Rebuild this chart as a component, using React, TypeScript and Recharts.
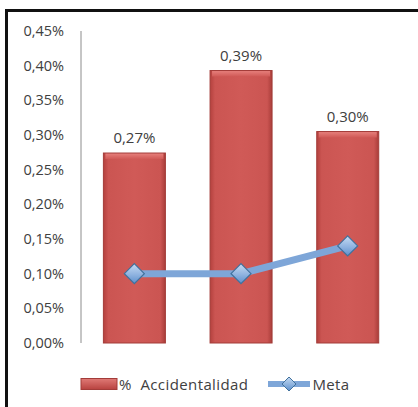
import React from 'react';
import { ComposedChart, Bar, Line, XAxis, YAxis, LabelList } from 'recharts';

const categories = ['A', 'B', 'C'];
const accidentalidad = [0.274, 0.393, 0.305];
const meta = [0.1, 0.1, 0.14];
const yTicks = [0, 0.05, 0.1, 0.15, 0.2, 0.25, 0.3, 0.35, 0.4, 0.45];

const data = categories.map((c, i) => ({ name: c, acc: accidentalidad[i], meta: meta[i] }));

const fmt = (v: number) => v.toFixed(2).replace('.', ',') + '%';
const FONT = '"Open Sans", "DejaVu Sans", sans-serif';
const TEXT = '#404040';

const BevelBar = (props: any) => {
  const { x, y, width, height } = props;
  if (!height || height <= 0) return null;
  return (
    <g>
      <rect x={x} y={y} width={width} height={height} fill="url(#barGrad)" />
      <rect x={x + 2} y={y} width={width - 4} height={6} fill="url(#barTop)" />
      <rect x={x} y={y} width={width} height={height} fill="none" stroke="#a33c39" strokeWidth={1} />
    </g>
  );
};

const Diamond = (props: any) => {
  const { cx, cy } = props;
  if (cx == null || cy == null) return null;
  const r = 10;
  return (
    <polygon
      points={`${cx},${cy - r} ${cx + r},${cy} ${cx},${cy + r} ${cx - r},${cy}`}
      fill="url(#diaGrad)"
      stroke="#41719c"
      strokeWidth={1.2}
    />
  );
};

const TopLabel = (props: any) => {
  const { x, y, width, value } = props;
  return (
    <text x={x + width / 2} y={y - 10} textAnchor="middle" fontSize={15} fontFamily={FONT} fill={TEXT}>
      {fmt(value)}
    </text>
  );
};

const LegendContent = () => (
  <div style={{ display: 'flex', alignItems: 'center', fontFamily: FONT, fontSize: 15, color: TEXT, letterSpacing: 0.4 }}>
    <svg width={39} height={14}>
      <rect x={1} y={1.5} width={36} height={11} fill="url(#barGradL)" stroke="#a33c39" />
    </svg>
    <span style={{ whiteSpace: 'pre' }}>{'%  Accidentalidad'}</span>
    <svg width={46} height={22} style={{ marginLeft: 18 }}>
      <line x1={2} y1={11} x2={44} y2={11} stroke="#7ea6d8" strokeWidth={6} />
      <polygon points="23,4 30,11 23,18 16,11" fill="url(#diaGradL)" stroke="#41719c" />
      <defs>
        <linearGradient id="diaGradL" x1="0" y1="0" x2="0" y2="1">
          <stop offset="0%" stopColor="#c6dbf3" />
          <stop offset="100%" stopColor="#5d8fcc" />
        </linearGradient>
        <linearGradient id="barGradL" x1="0" y1="0" x2="0" y2="1">
          <stop offset="0%" stopColor="#e07a76" />
          <stop offset="100%" stopColor="#b8423f" />
        </linearGradient>
      </defs>
    </svg>
    <span>Meta</span>
  </div>
);

export default function App() {
  return (
    <div style={{ position: 'absolute', left: 0, top: 0, width: 418, height: 407, background: '#fff' }}>
      <div style={{ position: 'absolute', left: 5, top: 9, width: 3, height: 398, background: '#111' }} />
      <div style={{ position: 'absolute', left: 5, top: 9, width: 413, height: 3, background: '#111' }} />
      <ComposedChart
        width={418}
        height={407}
        data={data}
        margin={{ top: 31, right: 17, bottom: 64, left: 0 }}
        barCategoryGap="21%"
      >
        <defs>
          <linearGradient id="barGrad" x1="0" y1="0" x2="1" y2="0">
            <stop offset="0%" stopColor="#b4413e" />
            <stop offset="8%" stopColor="#cb5552" />
            <stop offset="50%" stopColor="#d05a57" />
            <stop offset="92%" stopColor="#cb5552" />
            <stop offset="100%" stopColor="#a93d3a" />
          </linearGradient>
          <linearGradient id="barTop" x1="0" y1="0" x2="0" y2="1">
            <stop offset="0%" stopColor="#e8827e" />
            <stop offset="100%" stopColor="#d05a57" />
          </linearGradient>
          <linearGradient id="diaGrad" x1="0" y1="0" x2="0" y2="1">
            <stop offset="0%" stopColor="#c6dbf3" />
            <stop offset="55%" stopColor="#8fb3e0" />
            <stop offset="100%" stopColor="#5d8fcc" />
          </linearGradient>
        </defs>
        <XAxis dataKey="name" tick={false} tickLine={false} axisLine={{ stroke: '#8c8c8c' }} height={0} />
        <YAxis
          width={81}
          domain={[0, 0.45]}
          ticks={yTicks}
          tickFormatter={fmt}
          tickLine={false}
          tickSize={0}
          tickMargin={17}
          axisLine={{ stroke: '#8c8c8c' }}
          tick={{ fontSize: 14.5, fontFamily: FONT, fill: TEXT }}
          interval={0}
        />
        <Bar dataKey="acc" shape={BevelBar} isAnimationActive={false}>
          <LabelList dataKey="acc" content={TopLabel} />
        </Bar>
        <Line
          dataKey="meta"
          type="linear"
          stroke="#7ea6d8"
          strokeWidth={7}
          dot={Diamond}
          activeDot={false}
          isAnimationActive={false}
        />
      </ComposedChart>
      <div style={{ position: 'absolute', left: 80, top: 373 }}>
        <LegendContent />
      </div>
    </div>
  );
}
